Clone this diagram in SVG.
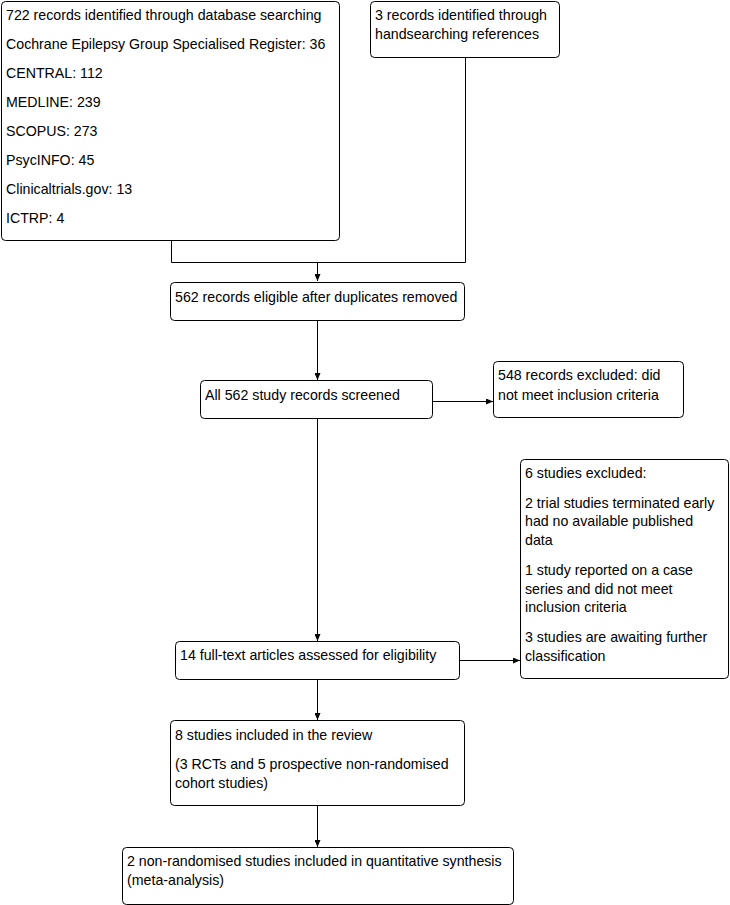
<svg xmlns="http://www.w3.org/2000/svg" width="730" height="905" viewBox="0 0 730 905">
<style>
.box{fill:#fff;stroke:#000;stroke-width:1}
text{font-family:"Liberation Sans",Arial,sans-serif;font-size:14.2px;fill:#000}
.c{fill:none;stroke:#000;stroke-width:1}
</style>
<defs>
<marker id="ah" markerWidth="7" markerHeight="6" refX="7" refY="3" orient="auto" markerUnits="userSpaceOnUse">
<path d="M0,0 L7,3 L0,6 Z" fill="#000"/>
</marker>
</defs>
<rect width="730" height="905" fill="#fff"/>
<g id="connectors">
<path class="c" d="M171.5,241 V262.5 H465.5 V57"/>
<path class="c" d="M317.5,262.5 V281" marker-end="url(#ah)"/>
<path class="c" d="M317.5,320 V380" marker-end="url(#ah)"/>
<path class="c" d="M432,401.5 H493" marker-end="url(#ah)"/>
<path class="c" d="M317.5,418 V641" marker-end="url(#ah)"/>
<path class="c" d="M459,660.5 H520" marker-end="url(#ah)"/>
<path class="c" d="M317.5,679 V720" marker-end="url(#ah)"/>
<path class="c" d="M317.5,805 V847" marker-end="url(#ah)"/>
</g>
<g id="n1">
<rect class="box" x="1.5" y="1.5" width="338" height="239" rx="4"/>
<text x="6" y="20">722 records identified through database searching</text>
<text x="6" y="49">Cochrane Epilepsy Group Specialised Register: 36</text>
<text x="6" y="78">CENTRAL: 112</text>
<text x="6" y="107">MEDLINE: 239</text>
<text x="6" y="136">SCOPUS: 273</text>
<text x="6" y="165">PsycINFO: 45</text>
<text x="6" y="194">Clinicaltrials.gov: 13</text>
<text x="6" y="223">ICTRP: 4</text>
</g>
<g id="n2">
<rect class="box" x="370.5" y="1.5" width="189" height="56" rx="4"/>
<text x="375" y="20">3 records identified through</text>
<text x="375" y="39">handsearching references</text>
</g>
<g id="n3">
<rect class="box" x="170.5" y="282.5" width="294" height="38" rx="4"/>
<text x="175" y="302">562 records eligible after duplicates removed</text>
</g>
<g id="n4">
<rect class="box" x="200.5" y="380.5" width="232" height="38" rx="4"/>
<text x="205" y="400">All 562 study records screened</text>
</g>
<g id="n5">
<rect class="box" x="493.5" y="361.5" width="190" height="56" rx="4"/>
<text x="498" y="380">548 records excluded: did</text>
<text x="498" y="400">not meet inclusion criteria</text>
</g>
<g id="n6">
<rect class="box" x="520.5" y="459.5" width="208" height="219" rx="4"/>
<text x="525" y="478">6 studies excluded:</text>
<text x="525" y="508">2 trial studies terminated early</text>
<text x="525" y="526">had no available published</text>
<text x="525" y="545">data</text>
<text x="525" y="575">1 study reported on a case</text>
<text x="525" y="594">series and did not meet</text>
<text x="525" y="612">inclusion criteria</text>
<text x="525" y="642">3 studies are awaiting further</text>
<text x="525" y="661">classification</text>
</g>
<g id="n7">
<rect class="box" x="175.5" y="641.5" width="284" height="38" rx="4"/>
<text x="180" y="660">14 full-text articles assessed for eligibility</text>
</g>
<g id="n8">
<rect class="box" x="170.5" y="720.5" width="294" height="85" rx="4"/>
<text x="175" y="740">8 studies included in the review</text>
<text x="175" y="769">(3 RCTs and 5 prospective non-randomised</text>
<text x="175" y="788">cohort studies)</text>
</g>
<g id="n9">
<rect class="box" x="122.5" y="847.5" width="391" height="57" rx="4"/>
<text x="127" y="866">2 non-randomised studies included in quantitative synthesis</text>
<text x="127" y="885">(meta-analysis)</text>
</g>
</svg>
